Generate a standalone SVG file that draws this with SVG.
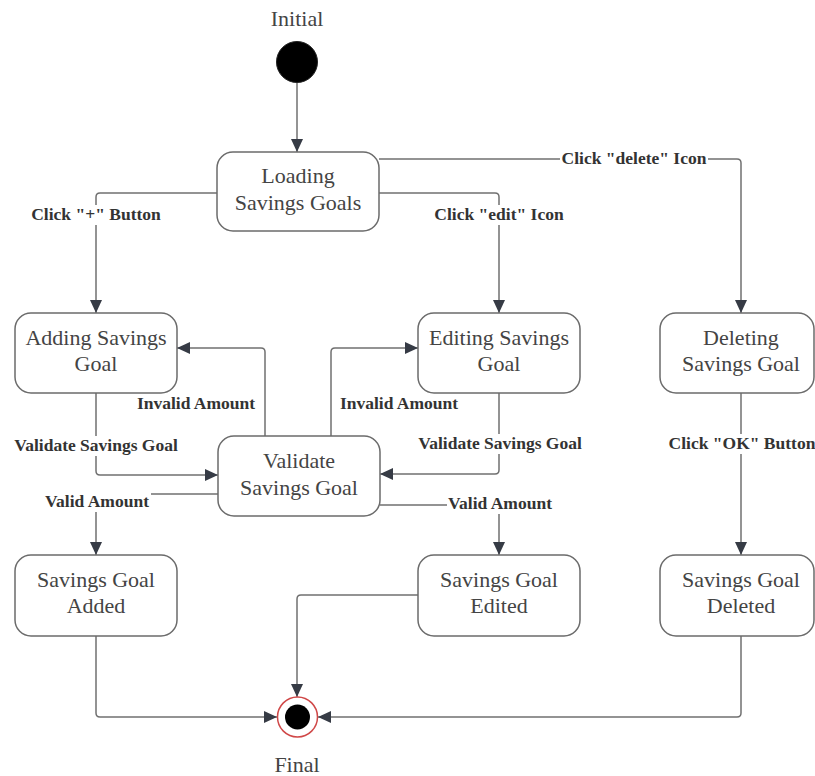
<svg xmlns="http://www.w3.org/2000/svg" width="815" height="776" viewBox="0 0 815 776" font-family="Liberation Serif, Times New Roman, DejaVu Serif, serif">
<style>
.node rect{fill:#fff;stroke:#6b6b6b;stroke-width:1.5}
.nt{font-family:"Liberation Serif","Times New Roman","DejaVu Serif",serif;font-size:22px;fill:#444;text-anchor:middle}
.lbl{font-family:"Liberation Serif","Times New Roman","DejaVu Serif",serif;font-size:17.5px;font-weight:bold;fill:#333;text-anchor:middle}
.bg{fill:#fff}
.edge{fill:none;stroke:#707070;stroke-width:1.5}
</style>
<defs>
<marker id="arr" markerUnits="userSpaceOnUse" markerWidth="14" markerHeight="14" viewBox="0 0 14 14" refX="13" refY="7" orient="auto">
<path d="M0,1 L13,7 L0,13 Z" fill="#363b45"/>
</marker>
</defs>
<rect width="815" height="776" fill="#fff"/>
<g id="connectors">
<path class="edge" marker-end="url(#arr)" d="M297,82 V152"/>
<path class="edge" marker-end="url(#arr)" d="M217,193 H100 Q96,193 96,197 V313"/>
<path class="edge" marker-end="url(#arr)" d="M379,193 H495 Q499,193 499,197 V313"/>
<path class="edge" marker-end="url(#arr)" d="M379,159 H737 Q741,159 741,163 V313"/>
<path class="edge" marker-end="url(#arr)" d="M96,393 V471 Q96,475 100,475 H218"/>
<path class="edge" marker-end="url(#arr)" d="M265,436 V352 Q265,348 261,348 H177"/>
<path class="edge" marker-end="url(#arr)" d="M331,436 V352 Q331,348 335,348 H418"/>
<path class="edge" marker-end="url(#arr)" d="M499,393 V470 Q499,474 495,474 H380"/>
<path class="edge" marker-end="url(#arr)" d="M218,494 H100 Q96,494 96,498 V555"/>
<path class="edge" marker-end="url(#arr)" d="M380,505 H495 Q499,505 499,509 V555"/>
<path class="edge" marker-end="url(#arr)" d="M741,393 V555"/>
<path class="edge" marker-end="url(#arr)" d="M96,636 V713 Q96,717 100,717 H277"/>
<path class="edge" marker-end="url(#arr)" d="M418,595 H301 Q297,595 297,599 V697"/>
<path class="edge" marker-end="url(#arr)" d="M741,636 V713 Q741,717 737,717 H318"/>
<rect class="bg" x="30" y="205" width="132" height="20"/>
<rect class="bg" x="433" y="205" width="132" height="20"/>
<rect class="bg" x="560" y="149" width="148" height="20"/>
<rect class="bg" x="13" y="436" width="166" height="20"/>
<rect class="bg" x="417" y="434" width="166" height="20"/>
<rect class="bg" x="43" y="492" width="108" height="20"/>
<rect class="bg" x="447" y="494" width="106" height="20"/>
<rect class="bg" x="667" y="434" width="148" height="20"/>
<text class="lbl" x="96" y="220">Click "+" Button</text>
<text class="lbl" x="499" y="220">Click "edit" Icon</text>
<text class="lbl" x="634" y="164">Click "delete" Icon</text>
<text class="lbl" x="196" y="409">Invalid Amount</text>
<text class="lbl" x="399" y="409">Invalid Amount</text>
<text class="lbl" x="96" y="451">Validate Savings Goal</text>
<text class="lbl" x="500" y="449">Validate Savings Goal</text>
<text class="lbl" x="97" y="507">Valid Amount</text>
<text class="lbl" x="500" y="509">Valid Amount</text>
<text class="lbl" x="742" y="449">Click "OK" Button</text>
</g>
<g id="initial">
<text class="nt" x="297" y="26">Initial</text>
<circle cx="297" cy="62" r="20.5" fill="#000" stroke="#222" stroke-width="1"/>
</g>
<g id="loading" class="node">
<rect x="217" y="152" width="162" height="79" rx="16"/>
<text class="nt" x="298" y="183">Loading</text>
<text class="nt" x="298" y="210">Savings Goals</text>
</g>
<g id="adding" class="node">
<rect x="15" y="313" width="162" height="80" rx="16"/>
<text class="nt" x="96" y="345">Adding Savings</text>
<text class="nt" x="96" y="371">Goal</text>
</g>
<g id="editing" class="node">
<rect x="418" y="313" width="162" height="80" rx="16"/>
<text class="nt" x="499" y="345">Editing Savings</text>
<text class="nt" x="499" y="371">Goal</text>
</g>
<g id="deleting" class="node">
<rect x="660" y="313" width="154" height="80" rx="16"/>
<text class="nt" x="741" y="345">Deleting</text>
<text class="nt" x="741" y="371">Savings Goal</text>
</g>
<g id="validate" class="node">
<rect x="218" y="436" width="162" height="80" rx="16"/>
<text class="nt" x="299" y="468">Validate</text>
<text class="nt" x="299" y="495">Savings Goal</text>
</g>
<g id="added" class="node">
<rect x="15" y="555" width="162" height="81" rx="16"/>
<text class="nt" x="96" y="587">Savings Goal</text>
<text class="nt" x="96" y="613">Added</text>
</g>
<g id="edited" class="node">
<rect x="418" y="555" width="162" height="81" rx="16"/>
<text class="nt" x="499" y="587">Savings Goal</text>
<text class="nt" x="499" y="613">Edited</text>
</g>
<g id="deleted" class="node">
<rect x="660" y="555" width="154" height="81" rx="16"/>
<text class="nt" x="741" y="587">Savings Goal</text>
<text class="nt" x="741" y="613">Deleted</text>
</g>
<g id="final">
<circle cx="297.5" cy="717" r="20" fill="#fff" stroke="#d04848" stroke-width="1.5"/>
<circle cx="297.5" cy="717" r="12.5" fill="#000"/>
<text class="nt" x="297" y="772">Final</text>
</g>
</svg>
